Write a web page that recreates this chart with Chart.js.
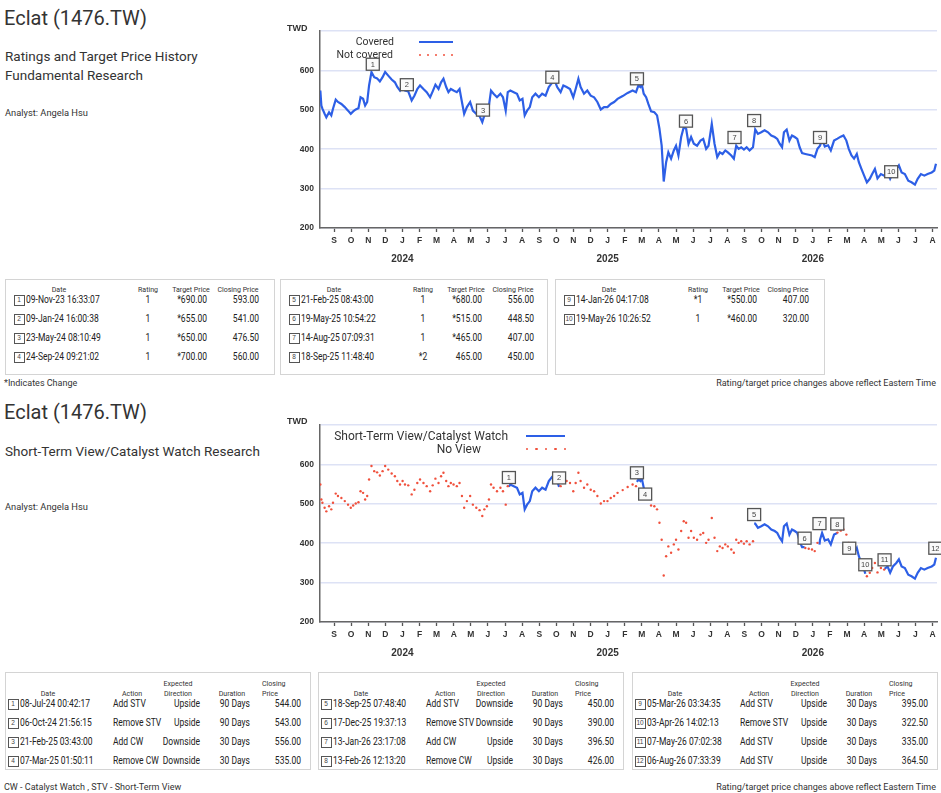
<!DOCTYPE html>
<html>
<head>
<meta charset="utf-8">
<script src="https://cdn.jsdelivr.net/npm/chart.js@4.4.1/dist/chart.umd.min.js"></script>
<style>
body { margin: 0; width: 941px; height: 793px; position: relative; background: #fff; overflow: hidden;
       font-family: Roboto, sans-serif; color: #333; }
.t { position: absolute; white-space: nowrap; line-height: 1; }
.title { font-size: 20px; color: #333; }
.sub { font-size: 13.5px; color: #333; }
.small { font-size: 9.3px; color: #333; }
.box { position: absolute; border: 1.5px solid #d4d4d4; box-sizing: border-box; }
.mk { position: absolute; width: 11px; height: 11px; border: 1.2px solid #555; box-sizing: border-box;
      font-size: 6.5px; line-height: 8.6px; text-align: center; color: #444; font-family: "Liberation Sans", sans-serif; }
canvas { position: absolute; }
</style>
</head>
<body>
<canvas id="topChart" width="661" height="252" style="left:280px;top:20px"></canvas>
<canvas id="stvChart" width="661" height="252" style="left:280px;top:414px"></canvas>
<script>
// price history, x = months since 1-Sep-2023
const priceMonths = [
  -0.80, -0.74, -0.68, -0.55, -0.45, -0.29, -0.16, -0.06, 0.10, 0.23, 0.43, 0.63, 0.82, 0.98, 1.12, 1.27, 1.43, 1.55, 1.70, 1.82, 1.94,
  2.05, 2.19, 2.35, 2.52, 2.68, 2.84, 2.99, 3.17, 3.37, 3.56, 3.70, 3.86, 4.01, 4.15, 4.34, 4.54, 4.70, 4.87, 5.03, 5.23, 5.42, 5.62, 5.77, 5.93,
  6.11, 6.26, 6.40, 6.56, 6.69, 6.83, 6.99, 7.18, 7.34, 7.48, 7.61, 7.77, 7.96, 8.12, 8.32, 8.51, 8.67, 8.79, 8.94, 9.06, 9.18, 9.33, 9.53, 9.73, 9.88,
  10.04, 10.16, 10.31, 10.51, 10.70, 10.86, 11.02, 11.15, 11.29, 11.45, 11.59, 11.78, 11.98, 12.17, 12.37, 12.56, 12.76, 12.90, 13.05, 13.25, 13.41, 13.60, 13.80, 13.99,
  14.13, 14.29, 14.42, 14.62, 14.81, 15.01, 15.21, 15.40, 15.60, 15.79, 15.99, 16.18, 16.38, 16.58,
  16.88, 17.17, 17.46, 17.66, 17.80, 17.91, 17.99, 18.11, 18.25, 18.38, 18.54, 18.73, 18.89, 19.03, 19.16, 19.28, 19.42, 19.55, 19.71, 19.87,
  20.00, 20.14, 20.30, 20.45, 20.59, 20.73, 20.88, 21.04, 21.23, 21.43, 21.59, 21.76, 21.90, 22.09, 22.25, 22.41, 22.56, 22.72, 22.88,
  23.03, 23.23, 23.38, 23.52, 23.66, 23.81, 23.97, 24.13, 24.30, 24.50, 24.63, 24.79, 24.98, 25.18, 25.38, 25.57, 25.77, 25.92,
  26.06, 26.20, 26.31, 26.47, 26.63, 26.78, 26.94, 27.09, 27.23, 27.37, 27.56, 27.76, 27.95, 28.11, 28.27, 28.42, 28.54, 28.70, 28.89,
  29.05, 29.24, 29.44, 29.63, 29.79, 29.96, 30.10, 30.26, 30.41, 30.57, 30.69, 30.84, 31.00, 31.16, 31.33, 31.47, 31.63, 31.78, 31.98,
  32.17, 32.37, 32.52, 32.68, 32.88, 33.03, 33.19, 33.38, 33.58, 33.77, 33.97, 34.13, 34.32, 34.52, 34.71, 34.95, 35.10, 35.20
];
const prices = [
  549, 511, 503, 490, 481, 494, 486, 503, 526, 520, 515, 507, 498, 490, 496, 501, 504, 532, 528, 511, 520,
  562, 596, 583, 580, 572, 583, 596, 587, 577, 570, 558, 549, 558, 549, 547, 524, 536, 553, 562, 553, 545, 532, 547, 564,
  553, 570, 579, 558, 545, 553, 549, 545, 553, 520, 490, 507, 520, 498, 490, 484, 469, 486, 494, 511, 549, 541, 532, 541, 532,
  498, 545, 549, 545, 541, 524, 528, 486, 498, 507, 532, 541, 532, 541, 536, 558, 569, 575, 558, 545, 562, 558, 553, 532,
  553, 579, 558, 541, 549, 536, 532, 520, 501, 507, 507, 515, 520, 528,
  535, 543, 549, 545, 562, 558, 566, 541, 532, 515, 496, 494, 486, 452, 409, 318, 367, 392, 376, 397,
  409, 384, 431, 456, 452, 414, 431, 414, 409, 422, 426, 401, 409, 464, 414, 380, 392, 388, 397,
  392, 384, 376, 409, 401, 405, 399, 405, 397, 405, 450, 439, 443, 448, 443, 435, 431, 426,
  414, 405, 443, 450, 422, 435, 431, 426, 405, 390, 388, 386, 384, 380, 401, 409, 426, 407, 410,
  397, 422, 427, 432, 435, 422, 401, 384, 376, 388, 367, 350, 333, 316, 325, 337, 350, 326, 337,
  333, 341, 325, 341, 350, 359, 341, 337, 320, 316, 310, 325, 337, 333, 337, 341, 346, 363
];
// the STV chart runs a couple of days further
const stvTailMonths = [35.26];
const stvTailPrices = [326];

const monthLabels = ['S', 'O', 'N', 'D', 'J', 'F', 'M', 'A', 'M', 'J', 'J', 'A'];
const yearLabels = ['2024', '2025', '2026'];
const yearTickPos = [4, 16, 28];
const yTicks = [200, 300, 400, 500, 600, 700];

// rating / target price table
const ratingDates = ['09-Nov-23 16:33:07', '09-Jan-24 16:00:38', '23-May-24 08:10:49', '24-Sep-24 09:21:02',
  '21-Feb-25 08:43:00', '19-May-25 10:54:22', '14-Aug-25 07:09:31', '18-Sep-25 11:48:40',
  '14-Jan-26 04:17:08', '19-May-26 10:26:52'];
const ratingValues = ['1', '1', '1', '1', '1', '1', '1', '*2', '*1', '1'];
const targetPrices = ['*690.00', '*655.00', '*650.00', '*700.00', '*680.00', '*515.00', '*465.00', '465.00', '*550.00', '*460.00'];
const ratingCloses = [593.00, 541.00, 476.50, 560.00, 556.00, 448.50, 407.00, 450.00, 407.00, 320.00];

// short-term view / catalyst watch table
const stvDates = ['08-Jul-24 00:42:17', '06-Oct-24 21:56:15', '21-Feb-25 03:43:00', '07-Mar-25 01:50:11',
  '18-Sep-25 07:48:40', '17-Dec-25 19:37:13', '13-Jan-26 23:17:08', '13-Feb-26 12:13:20',
  '05-Mar-26 03:34:35', '03-Apr-26 14:02:13', '07-May-26 07:02:38', '06-Aug-26 07:33:39'];
const stvActions = ['Add STV', 'Remove STV', 'Add CW', 'Remove CW', 'Add STV', 'Remove STV',
  'Add CW', 'Remove CW', 'Add STV', 'Remove STV', 'Add STV', 'Add STV'];
const stvDirections = ['Upside', 'Upside', 'Downside', 'Downside', 'Downside', 'Downside',
  'Upside', 'Upside', 'Upside', 'Upside', 'Upside', 'Upside'];
const stvDurations = ['90 Days', '90 Days', '30 Days', '30 Days', '90 Days', '90 Days',
  '30 Days', '30 Days', '30 Days', '30 Days', '30 Days', '30 Days'];
const stvCloses = [544.00, 543.00, 556.00, 535.00, 450.00, 390.00, 396.50, 426.00, 395.00, 322.50, 335.00, 364.50];

const X_MIN = -0.82, X_MAX = 35.26;
const BLUE = '#2d5fe6', RED = '#f0503c';

const MON = { Jan: 0, Feb: 1, Mar: 2, Apr: 3, May: 4, Jun: 5, Jul: 6, Aug: 7, Sep: 8, Oct: 9, Nov: 10, Dec: 11 };
function toMonthPos(s) {
    const [d, mon, yy] = s.split(' ')[0].split('-');
    const y = 2000 + parseInt(yy), m = MON[mon];
    const days = new Date(y, m + 1, 0).getDate();
    return (y - 2023) * 12 + (m - 8) + (parseInt(d) - 1) / days;
}

const ratingPos = ratingDates.map(toMonthPos);
const stvPos = stvDates.map(toMonthPos);

// numbered boxes over the price line
const eventBoxes = {
    id: 'eventBoxes',
    afterDatasetsDraw(chart, args, opts) {
        const { ctx, scales } = chart;
        ctx.save();
        opts.pos.forEach((m, i) => {
            const px = scales.x.getPixelForValue(m);
            const py = scales.y.getPixelForValue(opts.prices[i]) - 9 + (opts.nudge[i + 1] || 0);
            ctx.fillStyle = '#fafafa';
            ctx.fillRect(px - 6.5, py - 6, 13, 12);
            ctx.strokeStyle = '#555';
            ctx.lineWidth = 1.3;
            ctx.strokeRect(px - 6.5, py - 6, 13, 12);
            ctx.fillStyle = '#444';
            ctx.font = '7.5px "Liberation Sans"';
            ctx.textAlign = 'center';
            ctx.textBaseline = 'middle';
            ctx.fillText(String(i + 1), px, py + 0.5);
        });
        ctx.restore();
    }
};

function makeChart(id, datasets, boxes) {
    const tickFont = { family: '"Liberation Sans"', size: 8.5, weight: 'bold' };
    return new Chart(document.getElementById(id), {
        type: 'line',
        data: { datasets },
        options: {
            responsive: false,
            animation: false,
            layout: { padding: { top: 8, right: 4, left: 0, bottom: 0 } },
            plugins: { legend: { display: false }, tooltip: { enabled: false }, eventBoxes: boxes },
            scales: {
                x: {
                    type: 'linear', min: X_MIN, max: X_MAX, weight: 0,
                    afterBuildTicks: s => { s.ticks = monthLabels.concat(monthLabels, monthLabels).map((_, i) => ({ value: i })); },
                    afterFit: s => { s.height = 18; },
                    ticks: { autoSkip: false, maxRotation: 0, padding: 4, color: '#333', font: tickFont,
                             callback: (v, i) => monthLabels[i % 12] },
                    grid: { drawOnChartArea: false, tickLength: 4, tickColor: '#555', tickWidth: 1.3 },
                    border: { color: '#666', width: 1.5 }
                },
                x2: {
                    type: 'linear', position: 'bottom', min: X_MIN, max: X_MAX, weight: 1,
                    afterBuildTicks: s => { s.ticks = yearTickPos.map(v => ({ value: v })); },
                    afterFit: s => { s.height = 26; },
                    ticks: { autoSkip: false, maxRotation: 0, padding: 7, color: '#333',
                             font: { family: '"Liberation Sans"', size: 10, weight: 'bold' },
                             callback: (v, i) => yearLabels[i] },
                    grid: { display: false, drawTicks: false },
                    border: { display: false }
                },
                y: {
                    min: 200, max: 700,
                    afterBuildTicks: s => { s.ticks = yTicks.map(v => ({ value: v })); },
                    afterFit: s => { s.width = 40; },
                    ticks: { padding: 6, color: '#333', font: tickFont, callback: v => (v === 700 ? '' : v) },
                    grid: { color: '#dde2f5', lineWidth: 1.6, drawTicks: false },
                    border: { color: '#666', width: 1.5 }
                }
            }
        },
        plugins: [eventBoxes]
    });
}

// top chart: fully covered
makeChart('topChart', [{
    data: priceMonths.map((m, i) => ({ x: m, y: prices[i] })),
    borderColor: BLUE, borderWidth: 2.2, pointRadius: 0, tension: 0
}], { pos: ratingPos, prices: ratingCloses, nudge: {} });

// bottom chart: STV / CW periods drawn solid, the rest dotted
const stvMonths = priceMonths.concat(stvTailMonths);
const stvPrices = prices.concat(stvTailPrices);
const periods = [];
let open = null;
stvActions.forEach((a, i) => {
    if (a.startsWith('Add') && open === null) open = i;
    if (a.startsWith('Remove') && open !== null) { periods.push([open, i]); open = null; }
});
if (open !== null) periods.push([open, -1]);

const covered = [];
periods.forEach(([a, b]) => {
    const start = stvPos[a], end = b < 0 ? X_MAX : stvPos[b];
    covered.push({ x: start, y: stvCloses[a] });
    stvMonths.forEach((m, i) => { if (m > start && m < end) covered.push({ x: m, y: stvPrices[i] }); });
    if (b >= 0) covered.push({ x: end, y: stvCloses[b] });
    covered.push({ x: end + 0.001, y: null });
});
covered.sort((p, q) => p.x - q.x);
const notCovered = stvMonths.map((m, i) => ({ x: m, y: stvPrices[i] }))
    .filter(p => !periods.some(([a, b]) => p.x >= stvPos[a] && p.x <= (b < 0 ? X_MAX : stvPos[b])));

makeChart('stvChart', [
    { data: notCovered, showLine: false, pointRadius: 1.2, pointBackgroundColor: RED, pointBorderWidth: 0 },
    { data: covered, borderColor: BLUE, borderWidth: 2.2, pointRadius: 0, tension: 0, spanGaps: false }
], { pos: stvPos, prices: stvCloses, nudge: { 4: 13, 7: -12, 9: 12 } });

// ---- page text ----
function put(txt, x, y, size, align, extra) {
    extra = extra || {};
    const d = document.createElement('div');
    d.className = 't' + (extra.cls ? ' ' + extra.cls : '');
    d.textContent = txt;
    d.style.left = x + 'px';
    d.style.top = y + 'px';
    if (size) d.style.fontSize = size + 'px';
    const tx = align === 'right' ? '-100%' : align === 'center' ? '-50%' : '0';
    d.style.transformOrigin = (align === 'right' ? '100%' : align === 'center' ? '50%' : '0') + ' 50%';
    d.style.transform = `translate(${tx}, -50%)` + (extra.sx ? ` scaleX(${extra.sx})` : '');
    if (extra.style) Object.assign(d.style, extra.style);
    document.body.appendChild(d);
    return d;
}
function marker(n, cx, cy) {
    const d = document.createElement('div');
    d.className = 'mk';
    d.textContent = n;
    d.style.left = (cx - 5.5) + 'px';
    d.style.top = (cy - 5.5) + 'px';
    document.body.appendChild(d);
}
function box(x, y, w, h) {
    const d = document.createElement('div');
    d.className = 'box';
    Object.assign(d.style, { left: x + 'px', top: y + 'px', width: w + 'px', height: h + 'px' });
    document.body.appendChild(d);
}
function legend(x1, x2, y, dotted) {
    if (!dotted) {
        const d = document.createElement('div');
        Object.assign(d.style, { position: 'absolute', left: x1 + 'px', top: (y - 1.25) + 'px',
            width: (x2 - x1) + 'px', height: '2.5px', background: BLUE });
        document.body.appendChild(d);
        return;
    }
    for (let k = 0; k < 5; k++) {
        const d = document.createElement('div');
        const cx = x1 + k * (x2 - x1) / 4;
        Object.assign(d.style, { position: 'absolute', left: (cx - 1.1) + 'px', top: (y - 1.1) + 'px',
            width: '2.2px', height: '2.2px', borderRadius: '50%', background: RED });
        document.body.appendChild(d);
    }
}
const cell = { sx: 0.85, style: { color: '#222' } };
const head = { sx: 0.88, style: { color: '#333' } };

// top section
put('Eclat (1476.TW)', 4, 18, null, 'left', { cls: 'title' });
put('Ratings and Target Price History', 5, 57, null, 'left', { cls: 'sub' });
put('Fundamental Research', 5, 76, null, 'left', { cls: 'sub' });
put('Analyst: Angela Hsu', 5, 113, null, 'left', { cls: 'small' });
put('TWD', 287, 28, 9, 'left', { style: { fontFamily: '"Liberation Sans"', fontWeight: 'bold' } });
put('Covered', 394, 42, 10.5, 'right');
put('Not covered', 393, 55, 10.5, 'right');
legend(419, 453, 42, false);
legend(420, 452, 55, true);

const rBoxes = [[5, 270, 0, 4], [280, 268, 4, 8], [555, 270, 8, 10]];
rBoxes.forEach(([bx, bw, i0, i1]) => {
    box(bx, 279, bw, 96);
    put('Date', bx + 54, 290, 8, 'center', head);
    put('Rating', bx + 143, 290, 8, 'center', head);
    put('Target Price', bx + 186, 290, 8, 'center', head);
    put('Closing Price', bx + 233, 290, 8, 'center', head);
    for (let i = i0; i < i1; i++) {
        const ry = 300 + (i - i0) * 19;
        marker(i + 1, bx + 14, ry);
        put(ratingDates[i], bx + 21, ry, 10, 'left', cell);
        put(ratingValues[i], bx + 143, ry, 10, 'center', cell);
        put(targetPrices[i], bx + 202, ry, 10, 'right', cell);
        put(ratingCloses[i].toFixed(2), bx + 254, ry, 10, 'right', cell);
    }
});
put('*Indicates Change', 4, 383, 9, 'left', { cls: 'small' });
put('Rating/target price changes above reflect Eastern Time', 936, 383, 9, 'right', { cls: 'small' });

// bottom section
put('Eclat (1476.TW)', 4, 412, null, 'left', { cls: 'title' });
put('Short-Term View/Catalyst Watch Research', 5, 452, null, 'left', { cls: 'sub' });
put('Analyst: Angela Hsu', 5, 507, null, 'left', { cls: 'small' });
put('TWD', 287, 421, 9, 'left', { style: { fontFamily: '"Liberation Sans"', fontWeight: 'bold' } });
put('Short-Term View/Catalyst Watch', 508, 436, 12, 'right');
put('No View', 481, 449, 12, 'right');
legend(526, 565, 436, false);
legend(527, 565, 449, true);

const sBoxes = [[5, 0, 4], [318, 4, 8], [632, 8, 12]];
sBoxes.forEach(([bx, i0, i1]) => {
    box(bx, 672, 306, 98);
    put('Date', bx + 43, 694, 8, 'center', head);
    put('Action', bx + 127, 694, 8, 'center', head);
    put('Expected', bx + 173, 684, 8, 'center', head);
    put('Direction', bx + 173, 694, 8, 'center', head);
    put('Duration', bx + 227, 694, 8, 'center', head);
    put('Closing', bx + 257, 684, 8, 'left', head);
    put('Price', bx + 257, 694, 8, 'left', head);
    for (let i = i0; i < i1; i++) {
        const ry = 704 + (i - i0) * 19;
        marker(i + 1, bx + 8, ry);
        put(stvDates[i], bx + 15, ry, 10, 'left', cell);
        put(stvActions[i], bx + 108, ry, 10, 'left', cell);
        put(stvDirections[i], bx + 195, ry, 10, 'right', cell);
        put(stvDurations[i], bx + 245, ry, 10, 'right', cell);
        put(stvCloses[i].toFixed(2), bx + 296, ry, 10, 'right', cell);
    }
});
put('CW - Catalyst Watch , STV - Short-Term View', 4, 787, 9, 'left', { cls: 'small' });
put('Rating/target price changes above reflect Eastern Time', 936, 787, 9, 'right', { cls: 'small' });
</script>
</body>
</html>
